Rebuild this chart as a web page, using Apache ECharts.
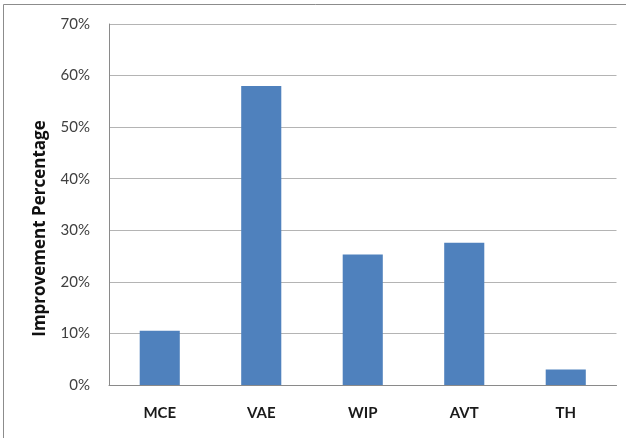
<!DOCTYPE html>
<html>
<head>
<meta charset="utf-8">
<script src="https://cdn.jsdelivr.net/npm/echarts@6/dist/echarts.min.js"></script>
<style>
html,body{margin:0;padding:0;background:#fff;}
#main{width:626px;height:438px;}
</style>
</head>
<body>
<div id="main"></div>
<script>
const categories = ['MCE', 'VAE', 'WIP', 'AVT', 'TH'];
const improvement = [10.5, 58.0, 25.3, 27.6, 3.0];
const yTicks = [0, 10, 20, 30, 40, 50, 60, 70];

const chart = echarts.init(document.getElementById('main'), null, {renderer: 'canvas'});
chart.setOption({
  animation: false,
  backgroundColor: '#fff',
  graphic: [{
    type: 'rect',
    shape: {x: 3.5, y: 4.5, width: 640, height: 450},
    style: {fill: 'none', stroke: '#8c8c8c', lineWidth: 1},
    silent: true
  }],
  grid: {left: 109, right: 9.5, top: 24, bottom: 53, containLabel: false},
  xAxis: {
    type: 'category',
    data: categories,
    axisTick: {show: false},
    axisLine: {show: true, lineStyle: {color: '#8a8a8a', width: 1}},
    axisLabel: {
      margin: 21,
      fontFamily: 'Lato',
      fontWeight: 'bold',
      fontSize: 15,
      color: '#1a1a1a'
    }
  },
  yAxis: {
    type: 'value',
    min: yTicks[0],
    max: yTicks[yTicks.length - 1],
    interval: 10,
    name: 'Improvement Percentage',
    nameLocation: 'middle',
    nameGap: 60,
    nameTextStyle: {
      fontFamily: 'Open Sans',
      fontWeight: 'bold',
      fontSize: 17,
      color: '#111',
      padding: [0, 48, 0, 0]
    },
    axisLine: {show: true, lineStyle: {color: '#8a8a8a', width: 1}},
    axisTick: {show: false},
    splitLine: {lineStyle: {color: '#b4b4b4', width: 1}},
    axisLabel: {
      margin: 19,
      fontFamily: 'Lato',
      fontSize: 15,
      color: '#404040',
      formatter: v => v + '%'
    }
  },
  series: [{
    type: 'bar',
    data: improvement,
    barWidth: '39.5%',
    itemStyle: {color: '#4f81bd'}
  }]
});
</script>
</body>
</html>
